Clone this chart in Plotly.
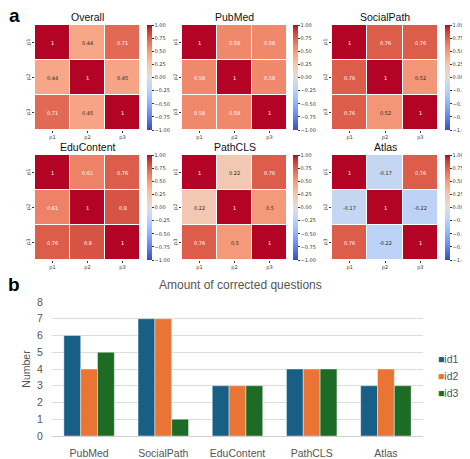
import plotly.graph_objects as go

OFF = 8  # the page draws the figure 8px in from the window corner
W, H = 470 - OFF, 459 - OFF

labels = ["p1", "p2", "p3"]
titles = ["Overall", "PubMed", "SocialPath", "EduContent", "PathCLS", "Atlas"]
overall = [[1, 0.44, 0.71], [0.44, 1, 0.45], [0.71, 0.45, 1]]
pubmed = [[1, 0.58, 0.58], [0.58, 1, 0.58], [0.58, 0.58, 1]]
socialpath = [[1, 0.76, 0.76], [0.76, 1, 0.52], [0.76, 0.52, 1]]
educontent = [[1, 0.61, 0.76], [0.61, 1, 0.8], [0.76, 0.8, 1]]
pathcls = [[1, 0.22, 0.76], [0.22, 1, 0.5], [0.76, 0.5, 1]]
atlas = [[1, -0.17, 0.76], [-0.17, 1, -0.22], [0.76, -0.22, 1]]
matrices = [overall, pubmed, socialpath, educontent, pathcls, atlas]

cb_ticks = [1.0, 0.75, 0.5, 0.25, 0.0, -0.25, -0.5, -0.75, -1.0]

categories = ["PubMed", "SocialPath", "EduContent", "PathCLS", "Atlas"]
id1 = [6, 7, 3, 4, 3]
id2 = [4, 7, 3, 4, 4]
id3 = [5, 1, 3, 4, 3]
series_names = ["id1", "id2", "id3"]
y_ticks = [0, 1, 2, 3, 4, 5, 6, 7, 8]

# matplotlib coolwarm samples
cw = [(59,76,192),(68,90,204),(77,104,215),(87,117,225),(98,130,234),(108,142,241),
      (119,154,247),(130,165,251),(141,176,254),(152,185,255),(163,194,255),(174,201,253),
      (184,208,249),(194,213,244),(204,217,238),(213,219,230),(221,221,221),(229,216,209),
      (236,211,197),(241,204,184),(245,196,172),(247,187,160),(247,177,148),(247,166,135),
      (244,154,123),(241,141,111),(236,127,99),(229,112,88),(222,96,77),(213,80,66),
      (203,62,56),(192,40,47),(180,4,38)]
n = len(cw) - 1
colorscale = [[i / n, "rgb(%d,%d,%d)" % c] for i, c in enumerate(cw)]

def cmap(v):
    t = (v + 1) / 2 * n
    i = min(int(t), n - 1)
    f = t - i
    return [cw[i][k] + (cw[i + 1][k] - cw[i][k]) * f for k in range(3)]

def lum(rgb):
    out = []
    for c in rgb:
        c = c / 255
        out.append(c / 12.92 if c <= 0.03928 else ((c + 0.055) / 1.055) ** 2.4)
    return 0.2126 * out[0] + 0.7152 * out[1] + 0.0722 * out[2]

def fx(a):
    return (a - OFF) / W

def fy(a):
    return 1 - (a - OFF) / H

cols = [(35, 140, 147), (182, 287, 293), (332, 438, 445)]
rows = [(25, 130), (155, 260)]

fig = go.Figure()
annotations = []
layout = {}
hm_font = "DejaVu Sans"

for k, (title, z) in enumerate(zip(titles, matrices)):
    r, c = divmod(k, 3)
    x0, x1, cbx = cols[c]
    y0, y1 = rows[r]
    ax = k + 1
    xa = "x" if ax == 1 else "x%d" % ax
    ya = "y" if ax == 1 else "y%d" % ax
    fig.add_trace(go.Heatmap(
        z=z, x=labels, y=labels, xaxis=xa, yaxis=ya,
        colorscale=colorscale, zmin=-1, zmax=1, xgap=1, ygap=1,
        hoverinfo="skip",
        colorbar=dict(
            x=fx(cbx), xanchor="left", y=fy((y0 + y1) / 2), yanchor="middle",
            len=(y1 - y0) / H, lenmode="fraction", thickness=5, thicknessmode="pixels",
            xpad=0, ypad=0, outlinewidth=0, ticks="outside", ticklen=2, tickwidth=0.5,
            tickcolor="#333", tickvals=cb_ticks,
            ticktext=[("%.2f" % t).replace("-", "\u2212") for t in cb_ticks],
            tickfont=dict(size=5, family=hm_font, color="#333"),
        ),
    ))
    layout["xaxis" if ax == 1 else "xaxis%d" % ax] = dict(
        domain=[fx(x0), fx(x1)], anchor=ya, showgrid=False, zeroline=False,
        ticks="outside", ticklen=2, tickwidth=0.5, tickcolor="#333",
        tickfont=dict(size=5, family=hm_font, color="#333"), fixedrange=True)
    layout["yaxis" if ax == 1 else "yaxis%d" % ax] = dict(
        domain=[fy(y1), fy(y0)], anchor=xa, autorange="reversed", showgrid=False,
        zeroline=False, ticks="outside", ticklen=2, tickwidth=0.5, tickcolor="#333",
        tickangle=-90, tickfont=dict(size=5, family=hm_font, color="#333"), fixedrange=True)
    annotations.append(dict(text=title, x=fx((x0 + x1) / 2), y=fy(y0 - 8),
                            xref="paper", yref="paper", showarrow=False,
                            xanchor="center", yanchor="middle",
                            font=dict(size=10.5, family="Liberation Sans", color="#111")))
    for i in range(3):
        for j in range(3):
            v = z[i][j]
            col = "#262626" if lum(cmap(v)) > 0.408 else "white"
            annotations.append(dict(text=("%g" % v), x=labels[j], y=labels[i],
                                    xref=xa, yref=ya, showarrow=False,
                                    font=dict(size=5, family=hm_font, color=col)))

bar_colors = ["#185f86", "#ea7434", "#1d6b25"]
for name, vals, colr in zip(series_names, [id1, id2, id3], bar_colors):
    fig.add_trace(go.Bar(x=categories, y=vals, name=name, xaxis="x7", yaxis="y7",
                         marker=dict(color=colr, line=dict(width=0.6, color="rgba(255,255,255,0.7)")),
                         hoverinfo="skip", showlegend=False))

layout["xaxis7"] = dict(domain=[fx(52), fx(423)], anchor="y7", showgrid=False, showline=False,
                        ticks="outside", ticklen=7, tickcolor="rgba(0,0,0,0)",
                        tickfont=dict(size=10.5, family="Liberation Sans", color="#555"),
                        fixedrange=True)
layout["yaxis7"] = dict(domain=[fy(436), fy(302)], anchor="x7", range=[0, 8], tickvals=y_ticks,
                        showgrid=True, gridcolor="#dcdcdc", gridwidth=1, zeroline=True,
                        zerolinecolor="#cfcfcf", zerolinewidth=1,
                        ticks="outside", ticklen=6, tickcolor="rgba(0,0,0,0)",
                        tickfont=dict(size=10.5, family="Liberation Sans", color="#555"),
                        title=dict(text="Number", font=dict(size=10.5, family="Liberation Sans", color="#555"), standoff=4),
                        fixedrange=True)

# legend as text entries
for i, (name, colr) in enumerate(zip(series_names, bar_colors)):
    annotations.append(dict(text='<span style="color:%s">\u25a0</span>%s' % (colr, name),
                            x=fx(436), y=fy(359 + 17 * i), xref="paper", yref="paper",
                            showarrow=False, xanchor="left", yanchor="middle",
                            font=dict(size=10.5, family="Liberation Sans", color="#555")))

annotations.append(dict(text="Amount of corrected questions", x=fx(240), y=fy(285),
                        xref="paper", yref="paper", showarrow=False, xanchor="center", yanchor="middle",
                        font=dict(size=12, family="Liberation Sans", color="#555")))
annotations.append(dict(text="<b>a</b>", x=fx(14), y=fy(16), xref="paper", yref="paper",
                        showarrow=False, xanchor="center", yanchor="middle",
                        font=dict(size=19, family="Liberation Sans", color="black")))
annotations.append(dict(text="<b>b</b>", x=fx(14), y=fy(284), xref="paper", yref="paper",
                        showarrow=False, xanchor="center", yanchor="middle",
                        font=dict(size=19, family="Liberation Sans", color="black")))

fig.update_layout(
    width=W, height=H, margin=dict(l=0, r=0, t=0, b=0, autoexpand=False),
    paper_bgcolor="white", plot_bgcolor="white",
    barmode="group", bargap=0.32, bargroupgap=0,
    showlegend=False,
    annotations=annotations,
    **layout,
)

fig.write_html("out.html")
